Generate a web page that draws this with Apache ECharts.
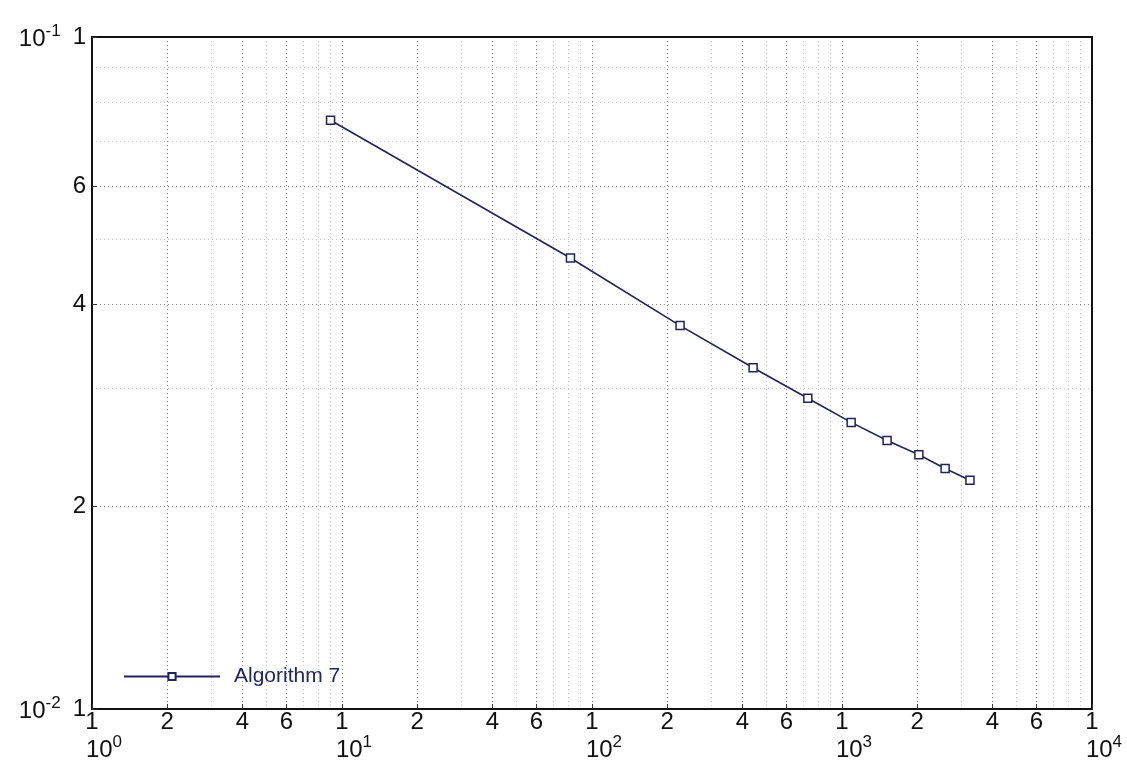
<!DOCTYPE html>
<html>
<head>
<meta charset="utf-8">
<script src="https://cdn.jsdelivr.net/npm/echarts@6/dist/echarts.min.js"></script>
<style>
  html, body { margin: 0; padding: 0; background: #fff; }
  #main { width: 1127px; height: 762px; }
</style>
</head>
<body>
<div id="main"></div>
<script>
// problem size vs. value, log-log
var sizes = [9, 82, 225, 441, 730, 1088, 1515, 2030, 2585, 3250];
var values = [0.0752, 0.0469, 0.0372, 0.0322, 0.0290, 0.0267, 0.0251, 0.0239, 0.0228, 0.0219];

// labelled ticks and the lighter minor grid
var xTicks = [1, 2, 4, 6, 10, 20, 40, 60, 100, 200, 400, 600, 1000, 2000, 4000, 6000, 10000];
var xMinor = [3, 5, 7, 8, 9, 30, 50, 70, 80, 90, 300, 500, 700, 800, 900, 3000, 5000, 7000, 8000, 9000];
var yTicks = [0.01, 0.02, 0.04, 0.06, 0.1];
var yMinor = [0.03, 0.05, 0.07, 0.08, 0.09];

var font = "'Liberation Sans', Arial, Helvetica, sans-serif";
var navy = '#23235c';

function expOf(v) { return Math.floor(Math.log10(v) + 1e-9); }
function mantOf(v) { return Math.round(v / Math.pow(10, expOf(v))); }

var rich = {
  m: { fontSize: 24, lineHeight: 24, fontFamily: font, color: '#111' },
  b: { fontSize: 24, lineHeight: 28, fontFamily: font, color: '#111', verticalAlign: 'bottom' },
  s: { fontSize: 17, lineHeight: 10, fontFamily: font, color: '#111', verticalAlign: 'top' },
  sp: { width: 24 },
  g: { width: 12 }
};

var majorGrid = { show: true, lineStyle: { color: '#888', width: 1, type: [1, 3] } };
var minorGrid = { show: true, lineStyle: { color: '#c4c4c4', width: 1, type: [1, 3] } };

var myChart = echarts.init(document.getElementById('main'));

var option = {
  animation: false,
  backgroundColor: '#fff',
  grid: { left: 92, right: 35, top: 37, bottom: 53, containLabel: false },
  legend: {
    left: 118,
    top: 661,
    itemWidth: 96,
    itemHeight: 9,
    textStyle: { fontFamily: font, fontSize: 21, color: '#1f2660', padding: [0, 0, 0, 9] },
    data: ['Algorithm 7']
  },
  xAxis: [
    {
      type: 'log', logBase: 10, min: 1, max: 10000, position: 'bottom',
      axisLine: { show: true, lineStyle: { color: '#111', width: 2 } },
      axisTick: { show: true, inside: true, length: 5, customValues: xTicks, lineStyle: { color: '#333' } },
      axisLabel: {
        customValues: xTicks, margin: 1, rich: rich,
        formatter: function (v) {
          var m = mantOf(v);
          if (m === 1) return '{m|1}\n{sp|}{b|10}{s|' + expOf(v) + '}';
          return '{m|' + m + '}';
        }
      },
      splitLine: majorGrid
    },
    {
      type: 'log', logBase: 10, min: 1, max: 10000, position: 'top',
      axisLine: { show: true, lineStyle: { color: '#111', width: 2 } },
      axisTick: { show: false, customValues: xMinor },
      axisLabel: { show: false },
      splitLine: minorGrid
    }
  ],
  yAxis: [
    {
      type: 'log', logBase: 10, min: 0.01, max: 0.1, position: 'left',
      axisLine: { show: true, lineStyle: { color: '#111', width: 2 } },
      axisTick: { show: true, inside: true, length: 5, customValues: yTicks, lineStyle: { color: '#333' } },
      axisLabel: {
        customValues: yTicks, margin: 6, rich: rich,
        formatter: function (v) {
          var m = mantOf(v);
          if (m === 1) return '{b|10}{s|' + expOf(v) + '}{g|}{m|1}';
          return '{m|' + m + '}';
        }
      },
      splitLine: majorGrid
    },
    {
      type: 'log', logBase: 10, min: 0.01, max: 0.1, position: 'right',
      axisLine: { show: true, lineStyle: { color: '#111', width: 2 } },
      axisTick: { show: false, customValues: yMinor },
      axisLabel: { show: false },
      splitLine: minorGrid
    }
  ],
  series: [
    {
      name: 'Algorithm 7',
      type: 'line',
      xAxisIndex: 0,
      yAxisIndex: 0,
      data: sizes.map(function (s, i) { return [s, values[i]]; }),
      symbol: 'rect',
      symbolSize: 8,
      lineStyle: { color: navy, width: 1.6 },
      itemStyle: { color: '#fff', borderColor: navy, borderWidth: 1.5 }
    }
  ]
};

myChart.setOption(option);
</script>
</body>
</html>
